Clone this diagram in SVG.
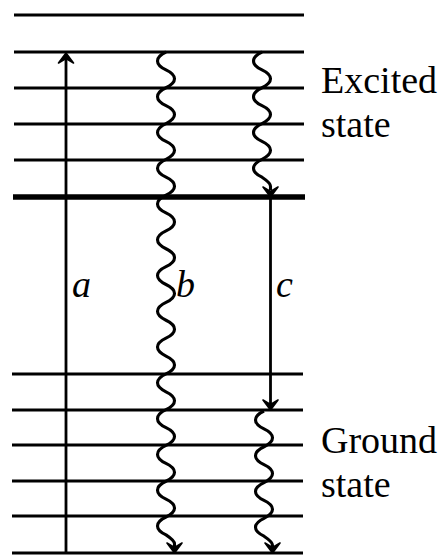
<svg xmlns="http://www.w3.org/2000/svg" width="439" height="556" viewBox="0 0 439 556">
<style>
.lvl{stroke:#000;stroke-width:2.8;fill:none}
.thick{stroke:#000;stroke-width:5.5;fill:none}
.tr{stroke:#000;stroke-width:2.8;fill:none;stroke-linecap:butt}
.wv{stroke:#000;stroke-width:3.1;fill:none;stroke-linecap:butt}
.lab{font-family:"Liberation Serif","Times New Roman",serif;font-size:38px;fill:#000}
.it{font-style:italic}
</style>
<defs>
<path id="ah" d="M-7.5,-10 L0,0 L7.5,-10 L0,-5.5 Z" fill="#000" stroke="#000" stroke-width="1.6" stroke-linejoin="round"/>
</defs>
<rect width="439" height="556" fill="#fff"/>
<g id="excited-levels">
<line class="lvl" x1="14" y1="15" x2="304" y2="15"/>
<line class="lvl" x1="14" y1="52" x2="304" y2="52"/>
<line class="lvl" x1="14" y1="88" x2="304" y2="88"/>
<line class="lvl" x1="14" y1="124" x2="304" y2="124"/>
<line class="lvl" x1="14" y1="160" x2="304" y2="160"/>
<line class="thick" x1="13" y1="197" x2="305" y2="197"/>
</g>
<g id="ground-levels">
<line class="lvl" x1="12" y1="374" x2="303" y2="374"/>
<line class="lvl" x1="12" y1="410" x2="303" y2="410"/>
<line class="lvl" x1="12" y1="445" x2="303" y2="445"/>
<line class="lvl" x1="12" y1="481" x2="303" y2="481"/>
<line class="lvl" x1="12" y1="516" x2="303" y2="516"/>
<line class="lvl" x1="12" y1="553" x2="303" y2="553"/>
</g>
<g id="connectors">
<g id="a">
<line class="tr" x1="66" y1="554" x2="66" y2="57"/>
<use href="#ah" transform="translate(66,53) rotate(180)"/>
</g>
<g id="b">
<path class="wv" d="M166,52 c-11.33,5.37 -11.33,12.52 0,17.885 c11.33,5.37 11.33,12.52 0,17.885 c-11.33,5.37 -11.33,12.52 0,17.885 c11.33,5.37 11.33,12.52 0,17.885 c-11.33,5.37 -11.33,12.52 0,17.885 c11.33,5.37 11.33,12.52 0,17.885 c-11.33,5.37 -11.33,12.52 0,17.885 c11.33,5.37 11.33,12.52 0,17.885 c-11.33,5.37 -11.33,12.52 0,17.885 c11.33,5.37 11.33,12.52 0,17.885 c-11.33,5.37 -11.33,12.52 0,17.885 c11.33,5.37 11.33,12.52 0,17.885 c-11.33,5.37 -11.33,12.52 0,17.885 c11.33,5.37 11.33,12.52 0,17.885 c-11.33,5.37 -11.33,12.52 0,17.885 c11.33,5.37 11.33,12.52 0,17.885 c-11.33,5.37 -11.33,12.52 0,17.885 c11.33,5.37 11.33,12.52 0,17.885 c-11.33,5.37 -11.33,12.52 0,17.885 c11.33,5.37 11.33,12.52 0,17.885 c-11.33,5.37 -11.33,12.52 0,17.885 c11.33,5.37 11.33,12.52 0,17.885 c-11.33,5.37 -11.33,12.52 0,17.885 c11.33,5.37 11.33,12.52 0,17.885 c-11.33,5.37 -11.33,12.52 0,17.885 c11.33,5.37 11.33,12.52 0,17.885 c-11.33,5.37 -11.33,12.52 0,17.885 c4.35,2.92 8.5,5.7 8.5,8.94 v4"/>
<use href="#ah" transform="translate(174.5,553)"/>
</g>
<g id="c">
<path class="wv" d="M262,52 c-11.33,5.37 -11.33,12.52 0,17.885 c11.33,5.37 11.33,12.52 0,17.885 c-11.33,5.37 -11.33,12.52 0,17.885 c11.33,5.37 11.33,12.52 0,17.885 c-11.33,5.37 -11.33,12.52 0,17.885 c11.33,5.37 11.33,12.52 0,17.885 c-11.33,5.37 -11.33,12.52 0,17.885 c4.35,2.92 8.5,5.7 8.5,8.94 v4"/>
<use href="#ah" transform="translate(270.5,197)"/>
<line class="tr" x1="270.5" y1="197" x2="270.5" y2="404"/>
<use href="#ah" transform="translate(270.5,410)"/>
<path class="wv" d="M264,411 c-11.33,5.37 -11.33,12.52 0,17.885 c11.33,5.37 11.33,12.52 0,17.885 c-11.33,5.37 -11.33,12.52 0,17.885 c11.33,5.37 11.33,12.52 0,17.885 c-11.33,5.37 -11.33,12.52 0,17.885 c11.33,5.37 11.33,12.52 0,17.885 c-11.33,5.37 -11.33,12.52 0,17.885 c4.35,2.92 8.5,5.7 8.5,8.94 v3"/>
<use href="#ah" transform="translate(272.5,553)"/>
</g>
</g>
<g id="labels">
<text class="lab it" x="72" y="297">a</text>
<text class="lab it" x="176" y="297">b</text>
<text class="lab it" x="276" y="297">c</text>
<text class="lab" x="321" y="93">Excited</text>
<text class="lab" x="321" y="137">state</text>
<text class="lab" x="321" y="453">Ground</text>
<text class="lab" x="321" y="497">state</text>
</g>
</svg>
